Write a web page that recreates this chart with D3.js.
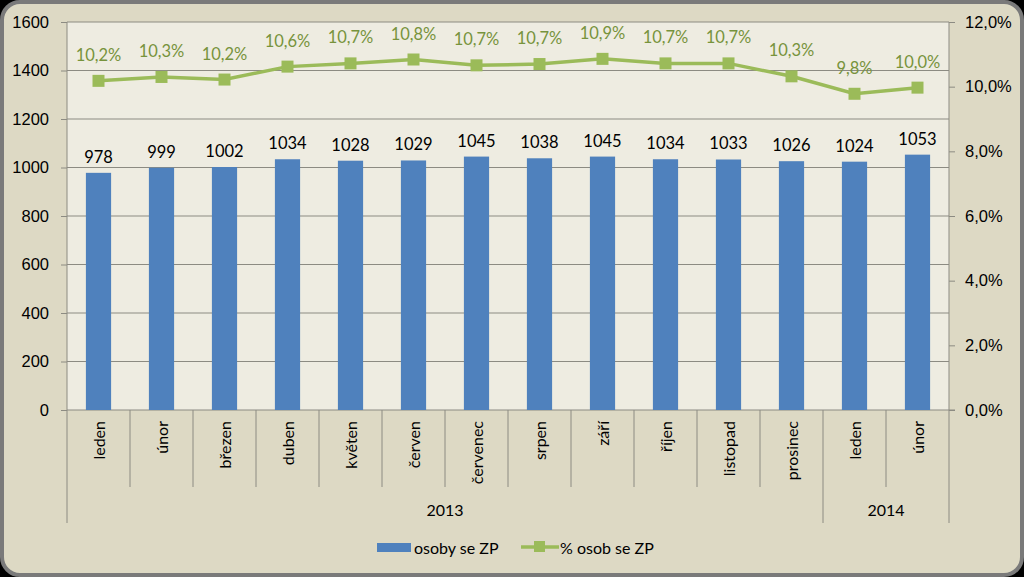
<!DOCTYPE html>
<html><head><meta charset="utf-8">
<script src="https://cdn.jsdelivr.net/npm/d3@7"></script>
<style>html,body{margin:0;padding:0;background:#000;}svg{display:block;font-family:Lato,"Open Sans",sans-serif;}</style>
</head><body>
<svg id="c" width="1024" height="577"></svg>
<script>
const months = ["leden","únor","březen","duben","květen","červen","červenec","srpen","září","říjen","listopad","prosinec","leden","únor"];
const years = [{label:"2013", from:0, to:11},{label:"2014", from:12, to:13}];
const persons = [978,999,1002,1034,1028,1029,1045,1038,1045,1034,1033,1026,1024,1053];
const percent = [10.18,10.30,10.22,10.62,10.72,10.84,10.66,10.70,10.86,10.72,10.72,10.32,9.78,9.97];
const leftTicks = [0,200,400,600,800,1000,1200,1400,1600];
const rightTicks = [0,2,4,6,8,10,12];
const seriesNames = ["osoby se ZP","% osob se ZP"];

const svg = d3.select("#c");
const W=1024,H=577;
svg.append("rect").attr("x",2).attr("y",2).attr("width",W-4).attr("height",H-4).attr("rx",18)
  .attr("fill","#ddd9c4").attr("stroke","#7a7a7a").attr("stroke-width",4);

const L=67,R=949,T=22,B=410;
const x = d3.scaleBand().domain(d3.range(months.length)).range([L,R]).paddingInner(0.6).paddingOuter(0.3);
const step = (R-L)/months.length;
const y = d3.scaleLinear().domain([0,1600]).range([B,T]);
const y2 = d3.scaleLinear().domain([0,12]).range([B,T]);

svg.append("rect").attr("x",L).attr("y",T).attr("width",R-L).attr("height",B-T).attr("fill","#eeece1");

// gridlines
svg.append("g").selectAll("line").data(leftTicks.filter(d=>d>0)).join("line")
  .attr("x1",L).attr("x2",R).attr("y1",d=>y(d)).attr("y2",d=>y(d)).attr("stroke","#8c8b82").attr("stroke-width",1);

// left axis
const ga = svg.append("g").attr("transform",`translate(${L},0)`)
  .call(d3.axisLeft(y).tickValues(leftTicks).tickSize(6).tickPadding(12).tickFormat(d=>String(d)));
ga.select(".domain").remove();
ga.selectAll("line").attr("stroke","#8c8b82");
ga.selectAll("text").attr("font-size",16.5).attr("fill","#000");

const gb = svg.append("g").attr("transform",`translate(${R},0)`)
  .call(d3.axisRight(y2).tickValues(rightTicks).tickSize(6).tickPadding(10).tickFormat(d=>d.toFixed(1).replace(".",",")+"%"));
gb.select(".domain").remove();
gb.selectAll("line").attr("stroke","#8c8b82");
gb.selectAll("text").attr("font-size",16.5).attr("fill","#000");

// axis lines
svg.append("line").attr("x1",L).attr("x2",L).attr("y1",T).attr("y2",523).attr("stroke","#8c8b82");
svg.append("line").attr("x1",R).attr("x2",R).attr("y1",T).attr("y2",B).attr("stroke","#8c8b82");
svg.append("line").attr("x1",L).attr("x2",R+6).attr("y1",B).attr("y2",B).attr("stroke","#8c8b82");

// category separators
const sep = svg.append("g");
for(let i=1;i<=months.length;i++){
  const isYear = years.some(yr=>yr.from===i) || i===months.length;
  sep.append("line").attr("x1",L+i*step).attr("x2",L+i*step).attr("y1",B).attr("y2",isYear?523:487).attr("stroke","#8c8b82");
}

// month labels
svg.append("g").selectAll("text").data(months).join("text")
  .attr("transform",(d,i)=>`translate(${x(i)+x.bandwidth()/2+6},421) rotate(-90)`)
  .attr("text-anchor","end").attr("font-size",16).attr("fill","#000").text(d=>d);

// year labels
svg.append("g").selectAll("text").data(years).join("text")
  .attr("x",d=>L+(d.from+d.to+1)/2*step).attr("y",516).attr("text-anchor","middle")
  .attr("font-size",16).attr("fill","#000").text(d=>d.label);

// bars
svg.append("g").selectAll("rect").data(persons).join("rect")
  .attr("x",(d,i)=>x(i)).attr("width",x.bandwidth()).attr("y",d=>y(d)).attr("height",d=>B-y(d)).attr("fill","#4f81bd");
svg.append("g").selectAll("text").data(persons).join("text")
  .attr("x",(d,i)=>x(i)+x.bandwidth()/2).attr("y",d=>y(d)-10).attr("text-anchor","middle")
  .attr("font-size",16.5).attr("fill","#000").text(d=>d);

// line
const cx = i=>x(i)+x.bandwidth()/2;
svg.append("path").datum(percent).attr("d",d3.line().x((d,i)=>cx(i)).y(d=>y2(d)))
  .attr("fill","none").attr("stroke","#9bbb59").attr("stroke-width",3.5);
svg.append("g").selectAll("rect").data(percent).join("rect")
  .attr("x",(d,i)=>cx(i)-6).attr("y",d=>y2(d)-6).attr("width",12).attr("height",12).attr("fill","#9bbb59");
svg.append("g").selectAll("text").data(percent).join("text")
  .attr("x",(d,i)=>cx(i)).attr("y",d=>y2(d)-20).attr("text-anchor","middle")
  .attr("font-size",16.5).attr("fill","#77933c").text(d=>d.toFixed(1).replace(".",",")+"%");

// legend
const lg = svg.append("g");
lg.append("rect").attr("x",377).attr("y",543).attr("width",34).attr("height",9).attr("fill","#4f81bd");
lg.append("text").attr("x",414).attr("y",554).attr("font-size",16).attr("fill","#000").text(seriesNames[0]);
lg.append("line").attr("x1",521).attr("x2",559).attr("y1",547).attr("y2",547).attr("stroke","#9bbb59").attr("stroke-width",3.5);
lg.append("rect").attr("x",534).attr("y",541).attr("width",11).attr("height",11).attr("fill","#9bbb59");
lg.append("text").attr("x",560).attr("y",554).attr("font-size",16).attr("fill","#000").text(seriesNames[1]);
</script>
</body></html>
